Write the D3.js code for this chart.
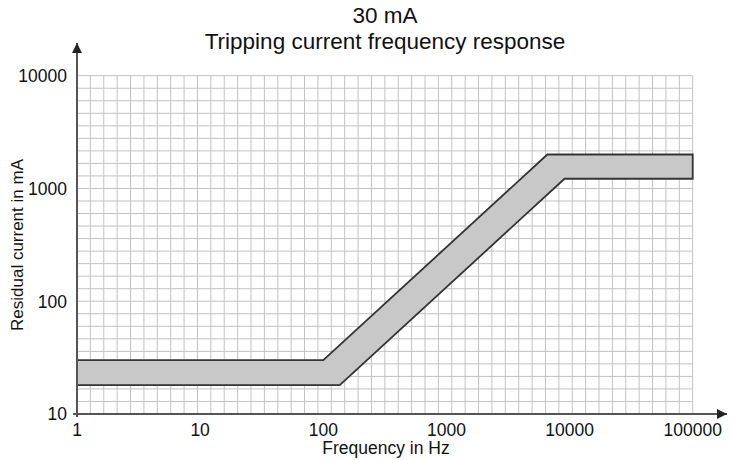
<!DOCTYPE html>
<html>
<head>
<meta charset="utf-8">
<script src="https://cdn.jsdelivr.net/npm/d3@7"></script>
<style>
  body { margin: 0; background: #fff; }
  text { font-family: "Liberation Sans", Arial, sans-serif; fill: #111; }
</style>
</head>
<body>
<svg id="chart"></svg>
<script>
// data
const titleLines = ['30 mA', 'Tripping current frequency response'];
const xTicks = [1, 10, 100, 1000, 10000, 100000];
const yTicks = [10, 100, 1000, 10000];
// upper boundary of the band (Hz, mA)
const upperFreq = [1, 100, 6600, 100000];
const upperCurrent = [30, 30, 2000, 2000];
// lower boundary of the band (Hz, mA)
const lowerFreq = [1, 136, 9100, 100000];
const lowerCurrent = [18, 18, 1220, 1220];
const gridCols = 46;
const gridRows = 27;

const width = 731, height = 460;
const plotLeft = 77, plotRight = 692.7, plotTop = 75.7, plotBottom = 414;

const svg = d3.select('#chart')
    .attr('width', width)
    .attr('height', height);

const x = d3.scaleLog().domain([1, 100000]).range([plotLeft, plotRight]);
const y = d3.scaleLog().domain([10, 10000]).range([plotBottom, plotTop]);

// paper grid (uniform, not tied to the decades)
const gx = d3.scaleLinear().domain([0, gridCols]).range([plotLeft, plotRight]);
const gy = d3.scaleLinear().domain([0, gridRows]).range([plotBottom, plotTop]);

svg.append('g')
    .selectAll('line')
    .data(d3.range(1, gridCols + 1))
    .enter().append('line')
    .attr('x1', d => gx(d)).attr('x2', d => gx(d))
    .attr('y1', plotTop).attr('y2', plotBottom)
    .style('stroke', '#c2c2c2')
    .style('stroke-width', 1);

svg.append('g')
    .selectAll('line')
    .data(d3.range(1, gridRows + 1))
    .enter().append('line')
    .attr('y1', d => gy(d)).attr('y2', d => gy(d))
    .attr('x1', plotLeft).attr('x2', plotRight)
    .style('stroke', '#c2c2c2')
    .style('stroke-width', 1);

// band
const upper = upperFreq.map((f, i) => [f, upperCurrent[i]]);
const lower = lowerFreq.map((f, i) => [f, lowerCurrent[i]]);
const band = upper.concat(lower.slice().reverse());

svg.append('path')
    .datum(band)
    .attr('d', d3.line().x(d => x(d[0])).y(d => y(d[1])).curve(d3.curveLinearClosed))
    .attr('fill', '#c8c8c8')
    .attr('stroke', '#333')
    .attr('stroke-width', 1.8)
    .attr('stroke-linejoin', 'miter');

// axes with arrows
svg.append('defs').append('marker')
    .attr('id', 'arrow')
    .attr('viewBox', '0 0 10 10')
    .attr('refX', 10).attr('refY', 5)
    .attr('markerWidth', 7).attr('markerHeight', 5)
    .attr('markerUnits', 'strokeWidth')
    .attr('orient', 'auto')
    .append('path')
    .attr('d', 'M0,0 L10,5 L0,10 Z')
    .attr('fill', '#222');

svg.append('line')
    .attr('x1', plotLeft).attr('x2', plotLeft)
    .attr('y1', plotBottom + 3).attr('y2', 43)
    .attr('stroke', '#555').attr('stroke-width', 2)
    .attr('marker-end', 'url(#arrow)');

svg.append('line')
    .attr('x1', plotLeft - 4).attr('x2', 727)
    .attr('y1', plotBottom).attr('y2', plotBottom)
    .attr('stroke', '#555').attr('stroke-width', 2)
    .attr('marker-end', 'url(#arrow)');

// tick labels
svg.append('g')
    .selectAll('text')
    .data(yTicks)
    .enter().append('text')
    .attr('x', plotLeft - 10)
    .attr('y', d => y(d))
    .attr('dy', '0.36em')
    .attr('text-anchor', 'end')
    .style('font-size', '17.5px')
    .text(d => d);

svg.append('g')
    .selectAll('text')
    .data(xTicks)
    .enter().append('text')
    .attr('x', d => x(d))
    .attr('y', 436)
    .attr('text-anchor', 'middle')
    .style('font-size', '17.5px')
    .text(d => d);

// titles
svg.append('g')
    .selectAll('text')
    .data(titleLines)
    .enter().append('text')
    .attr('x', 385)
    .attr('y', (d, i) => 23 + i * 25.5)
    .attr('text-anchor', 'middle')
    .style('font-size', '22.5px')
    .text(d => d);

svg.append('text')
    .attr('x', 386)
    .attr('y', 454)
    .attr('text-anchor', 'middle')
    .style('font-size', '17.5px')
    .text('Frequency in Hz');

svg.append('text')
    .attr('transform', 'translate(23,245) rotate(-90)')
    .attr('text-anchor', 'middle')
    .style('font-size', '17px')
    .text('Residual current in mA');
</script>
</body>
</html>
